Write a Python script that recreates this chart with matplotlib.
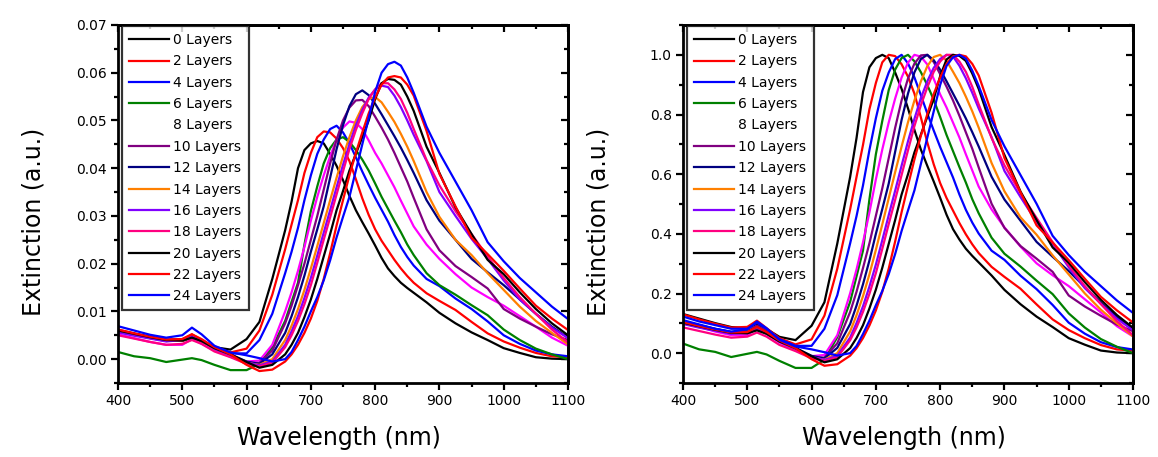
import numpy as np
import matplotlib
matplotlib.use("Agg")
import matplotlib.pyplot as plt
from matplotlib.ticker import MultipleLocator, FormatStrFormatter

plt.rcParams['font.family'] = ['DejaVu Sans']

# ---------------- data ----------------
wavelength = [400, 425, 450, 475, 500, 515, 530, 550, 575, 600, 620, 640,
              660, 670, 680, 690, 700, 710, 720, 730, 740, 750, 760, 770, 780,
              790, 800, 810, 820, 830, 840, 850, 860,
              880, 900, 925, 950, 975, 1000, 1025, 1050, 1075, 1100]

labels = ['0 Layers', '2 Layers', '4 Layers', '6 Layers', '8 Layers', '10 Layers',
          '12 Layers', '14 Layers', '16 Layers', '18 Layers', '20 Layers',
          '22 Layers', '24 Layers']

colors = ['#000000', '#FF0000', '#0000FF', '#008000', '#FF00FF', '#800080',
          '#000080', '#FF8000', '#8000FF', '#FF0080', '#000000', '#FF0000', '#0000FF']

ext_0 = [.0060, .0053, .0046, .0040, .0038, .0045, .0037, .0025, .0020, .0042, .0078, .0168,
         .0270, .0330, .0400, .0438, .0452, .0457, .0452, .0430, .0405, .0375, .0342, .0312, .0287,
         .0263, .0238, .0212, .0190, .0174, .0160, .0149, .0139,
         .0119, .0097, .0075, .0056, .0040, .0023, .0013, .0004, .0001, .0000]
ext_2 = [.0062, .0054, .0047, .0041, .0042, .0052, .0040, .0024, .0014, .0022, .0060, .0135,
         .0230, .0282, .0333, .0390, .0432, .0465, .0477, .0475, .0462, .0442, .0415, .0377, .0337,
         .0302, .0272, .0248, .0228, .0208, .0190, .0174, .0160,
         .0138, .0122, .0103, .0078, .0054, .0037, .0024, .0013, .0006, .0004]
ext_4 = [.0060, .0052, .0046, .0040, .0040, .0050, .0039, .0023, .0012, .0012, .0040, .0095,
         .0180, .0225, .0275, .0333, .0385, .0430, .0460, .0482, .0489, .0475, .0452, .0423, .0393,
         .0365, .0338, .0313, .0288, .0260, .0235, .0214, .0196,
         .0168, .0153, .0127, .0105, .0079, .0050, .0032, .0018, .0010, .0006]
ext_6 = [.0015, .0006, .0002, -.0006, -.0001, .0002, -.0002, -.0012, -.0023, -.0023, -.0010, .0025,
         .0080, .0120, .0160, .0240, .0310, .0362, .0410, .0442, .0460, .0465, .0455, .0438, .0418,
         .0395, .0368, .0340, .0315, .0290, .0266, .0240, .0218,
         .0180, .0155, .0135, .0113, .0092, .0062, .0040, .0022, .0010, .0000]
ext_8 = [.0052, .0044, .0036, .0030, .0030, .0042, .0032, .0018, .0005, -.0005, -.0003, .0030,
         .0100, .0140, .0185, .0235, .0290, .0340, .0385, .0425, .0460, .0485, .0498, .0495, .0482,
         .0458, .0432, .0410, .0385, .0360, .0332, .0305, .0278,
         .0240, .0210, .0178, .0150, .0130, .0112, .0090, .0068, .0045, .0028]
ext_10 = [.0058, .0051, .0044, .0038, .0040, .0050, .0040, .0022, .0008, -.0008, -.0008, .0018,
          .0075, .0112, .0155, .0200, .0250, .0300, .0355, .0410, .0460, .0500, .0527, .0542, .0543,
          .0530, .0508, .0485, .0460, .0432, .0402, .0372, .0338,
          .0272, .0228, .0195, .0172, .0148, .0105, .0085, .0068, .0052, .0040]
ext_12 = [.0060, .0053, .0046, .0040, .0041, .0048, .0040, .0024, .0010, -.0005, -.0010, .0010,
          .0055, .0090, .0130, .0175, .0225, .0272, .0320, .0380, .0440, .0490, .0530, .0555, .0563,
          .0553, .0535, .0513, .0490, .0467, .0443, .0417, .0390,
          .0333, .0290, .0250, .0210, .0182, .0155, .0125, .0095, .0068, .0045]
ext_14 = [.0058, .0051, .0044, .0038, .0039, .0046, .0038, .0022, .0008, -.0008, -.0012, .0000,
          .0040, .0070, .0105, .0145, .0190, .0237, .0285, .0333, .0380, .0425, .0465, .0500, .0528,
          .0545, .0549, .0538, .0518, .0497, .0472, .0445, .0415,
          .0350, .0298, .0250, .0218, .0180, .0145, .0110, .0080, .0055, .0031]
ext_16 = [.0056, .0049, .0043, .0037, .0040, .0048, .0039, .0022, .0008, -.0007, -.0013, -.0005,
          .0030, .0058, .0090, .0128, .0170, .0217, .0265, .0312, .0360, .0407, .0450, .0490, .0522,
          .0548, .0565, .0573, .0570, .0552, .0528, .0500, .0470,
          .0415, .0350, .0300, .0252, .0210, .0165, .0125, .0095, .0066, .0044]
ext_18 = [.0050, .0043, .0036, .0030, .0032, .0040, .0032, .0016, .0004, -.0010, -.0015, -.0008,
          .0025, .0050, .0080, .0115, .0155, .0202, .0250, .0297, .0345, .0393, .0440, .0480, .0515,
          .0545, .0565, .0578, .0578, .0565, .0545, .0516, .0482,
          .0417, .0364, .0310, .0262, .0215, .0170, .0130, .0095, .0062, .0035]
ext_20 = [.0060, .0053, .0046, .0040, .0039, .0045, .0038, .0023, .0010, -.0006, -.0018, -.0012,
          .0010, .0030, .0055, .0088, .0125, .0168, .0215, .0262, .0312, .0352, .0395, .0430, .0465,
          .0500, .0545, .0578, .0587, .0585, .0575, .0550, .0520,
          .0445, .0390, .0318, .0262, .0208, .0178, .0140, .0105, .0075, .0050]
ext_22 = [.0062, .0054, .0047, .0041, .0042, .0052, .0042, .0025, .0010, -.0012, -.0025, -.0022,
          -.0005, .0010, .0030, .0055, .0085, .0122, .0168, .0222, .0280, .0333, .0385, .0432, .0475,
          .0515, .0548, .0575, .0590, .0593, .0590, .0575, .0552,
          .0478, .0388, .0320, .0254, .0220, .0185, .0148, .0112, .0085, .0061]
ext_24 = [.0069, .0060, .0051, .0045, .0050, .0066, .0052, .0028, .0014, .0008, .0002, -.0005,
          .0000, .0015, .0040, .0068, .0100, .0130, .0165, .0207, .0255, .0298, .0340, .0395, .0450,
          .0505, .0560, .0600, .0618, .0623, .0615, .0590, .0558,
          .0487, .0432, .0372, .0312, .0245, .0205, .0170, .0140, .0110, .0084]

series = [ext_0, ext_2, ext_4, ext_6, ext_8, ext_10, ext_12, ext_14, ext_16,
          ext_18, ext_20, ext_22, ext_24]

# ---------------- figure ----------------
W, H = 1158, 457
fig = plt.figure(figsize=(W / 100, H / 100), dpi=100)

def px_axes(x0, x1, y0, y1):
    return fig.add_axes([x0 / W, 1 - y1 / H, (x1 - x0) / W, (y1 - y0) / H])

axL = px_axes(118, 568, 25, 383)
axR = px_axes(683, 1133, 25, 383)

x = np.array(wavelength)

for ax, norm in ((axL, False), (axR, True)):
    for vals, lab, col in zip(series, labels, colors):
        y = np.array(vals)
        if norm:
            y = y / y.max()
        ax.plot(x, y, color=col, lw=1.6, label=lab)

    ax.set_xlim(400, 1100)
    ax.xaxis.set_major_locator(MultipleLocator(100))
    ax.xaxis.set_minor_locator(MultipleLocator(50))
    for s in ax.spines.values():
        s.set_linewidth(2.0)
    ax.tick_params(which='both', direction='out', top=False, right=False,
                   width=1.6, labelsize=10, pad=3)
    ax.tick_params(which='major', length=5)
    ax.tick_params(which='minor', length=3)

    top = ax.secondary_xaxis('top')
    top.xaxis.set_major_locator(MultipleLocator(100))
    top.xaxis.set_minor_locator(MultipleLocator(50))
    top.tick_params(which='both', direction='in', labeltop=False, width=1.6)
    top.tick_params(which='major', length=5)
    top.tick_params(which='minor', length=3)
    top.spines['top'].set_linewidth(2.0)

    ax.set_xlabel('Wavelength (nm)', fontsize=17)
    ax.set_ylabel('Extinction (a.u.)', fontsize=17)

    leg = ax.legend(loc='upper left', bbox_to_anchor=(0.009, 0.997), borderaxespad=0,
                    fontsize=10, frameon=True, fancybox=False, edgecolor='black',
                    handlelength=2.9, handletextpad=0.3, labelspacing=0.53,
                    borderpad=0.5)
    leg.get_frame().set_linewidth(1.6)
    leg.get_lines()[4].set_visible(False)

axL.set_ylim(-0.005, 0.07)
axL.yaxis.set_major_locator(MultipleLocator(0.01))
axL.yaxis.set_minor_locator(MultipleLocator(0.005))
axL.yaxis.set_major_formatter(FormatStrFormatter('%.2f'))

axR.set_ylim(-0.1, 1.1)
axR.yaxis.set_major_locator(MultipleLocator(0.2))
axR.yaxis.set_minor_locator(MultipleLocator(0.1))
axR.yaxis.set_major_formatter(FormatStrFormatter('%.1f'))

for ax in (axL, axR):
    right = ax.secondary_yaxis('right')
    right.yaxis.set_major_locator(ax.yaxis.get_major_locator())
    right.yaxis.set_minor_locator(ax.yaxis.get_minor_locator())
    right.tick_params(which='both', direction='in', labelright=False, width=1.6)
    right.tick_params(which='major', length=5)
    right.tick_params(which='minor', length=3)
    right.spines['right'].set_linewidth(2.0)
    ax.xaxis.set_label_coords(0.49, -0.12)
    ax.yaxis.set_label_coords(-0.16, 0.45)

fig.savefig('out.png', dpi=100)
